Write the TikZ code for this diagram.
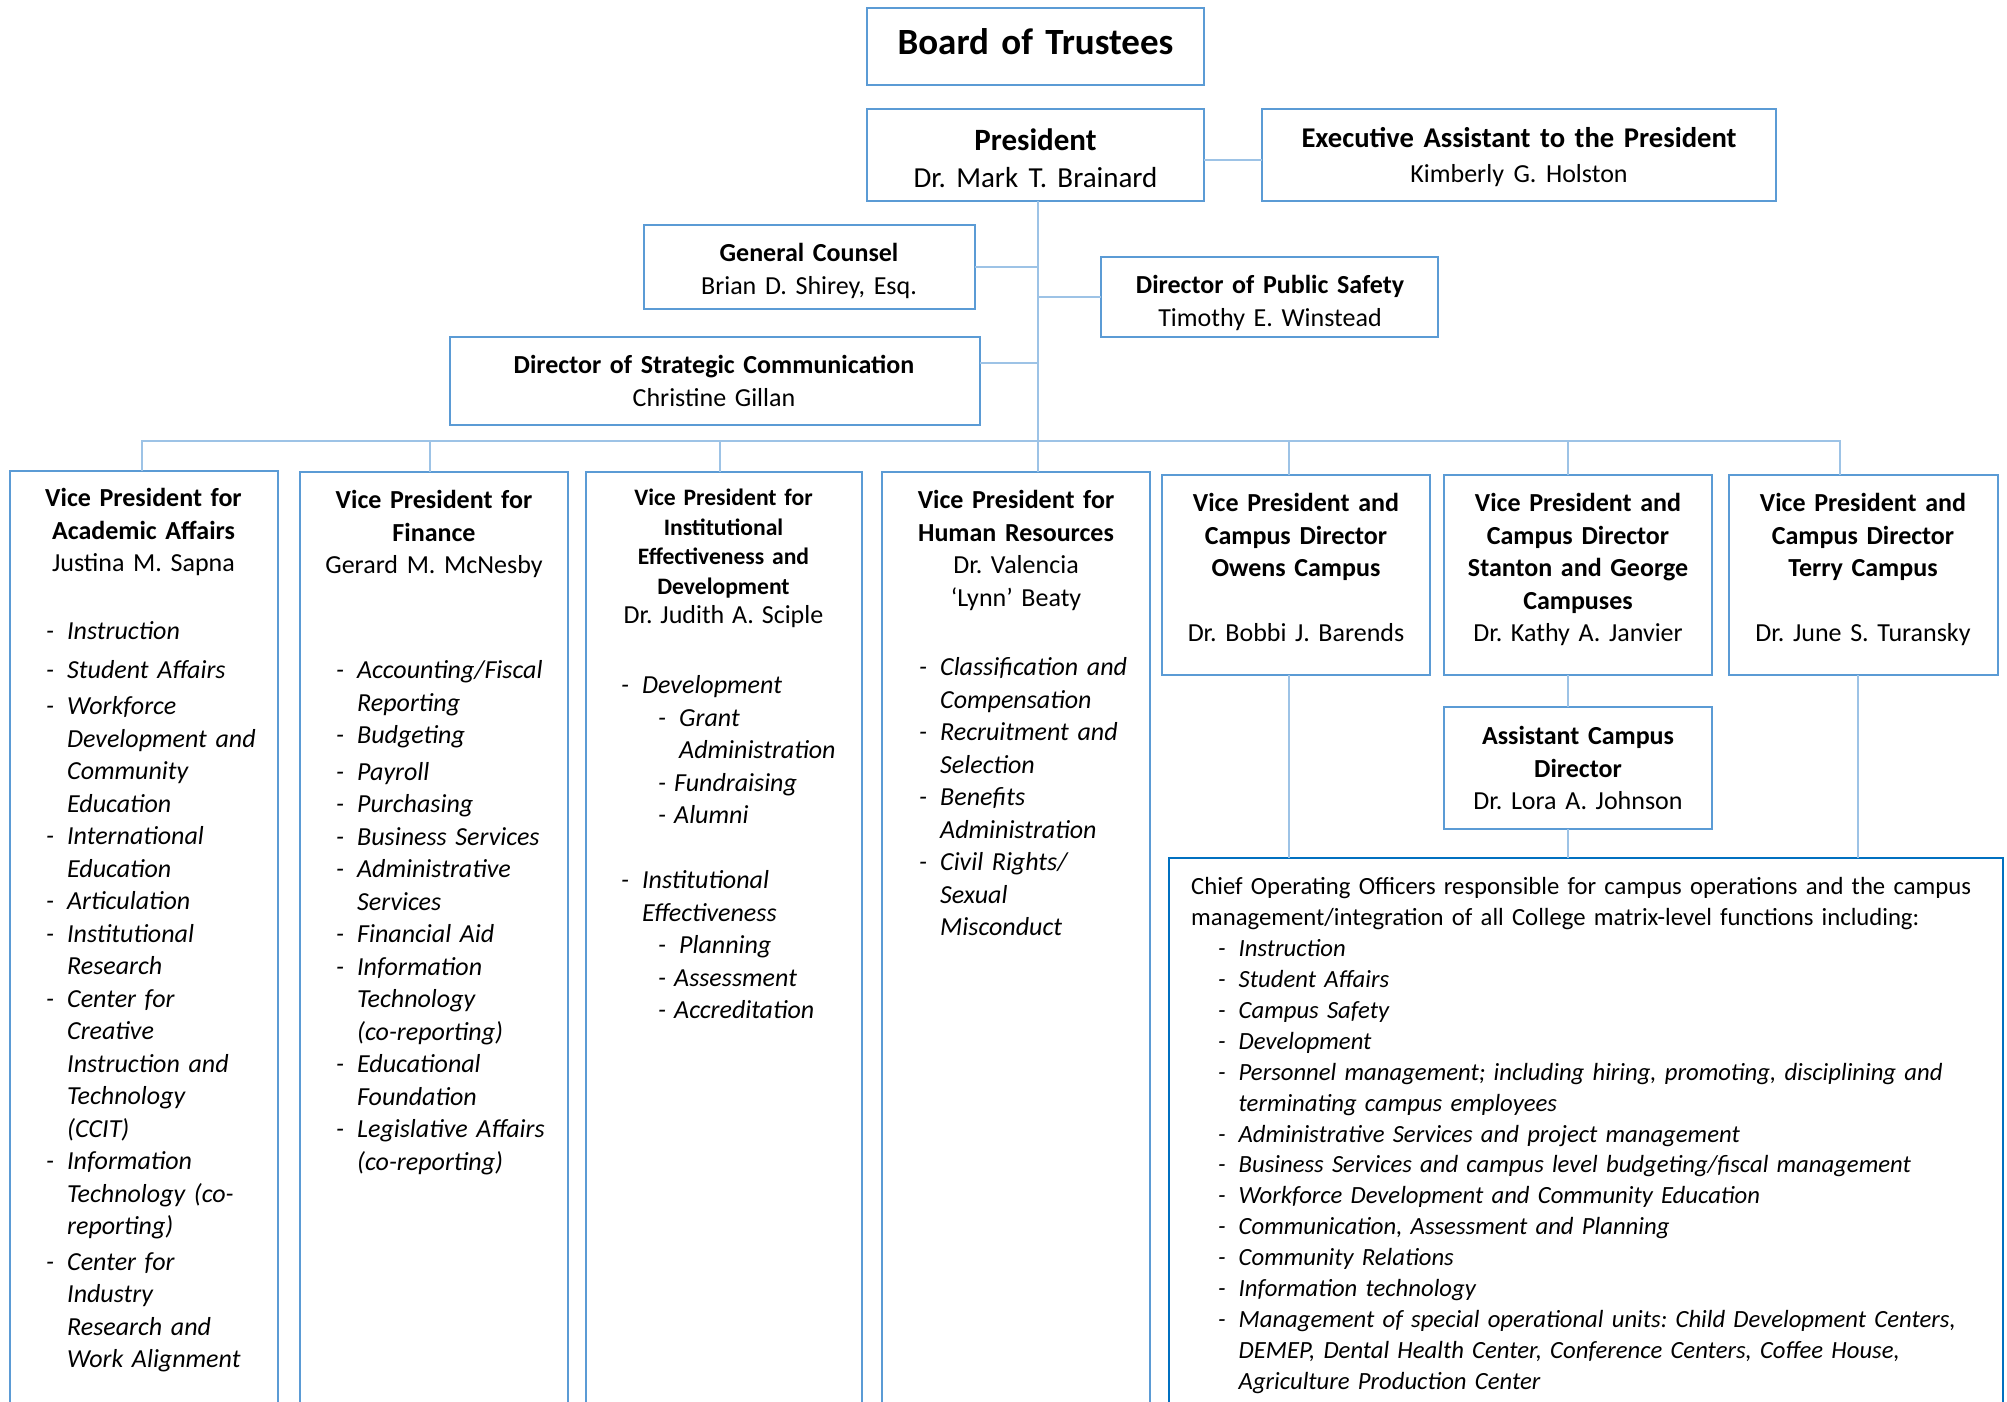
\documentclass[tikz,border=0pt]{standalone}
\usepackage{fontspec}
\setmainfont{Carlito}
\usepackage{tikz}
\frenchspacing

\definecolor{boxblue}{RGB}{91,155,213}
\definecolor{linkblue}{RGB}{157,195,230}
\definecolor{cooblue}{RGB}{0,112,192}

\newcommand{\boardsize}{\fontsize{37pt}{45pt}\selectfont}
\newcommand{\pressize}{\fontsize{31pt}{37pt}\selectfont}
\newcommand{\presname}{\fontsize{29pt}{37pt}\selectfont}
\newcommand{\execsize}{\fontsize{28.6pt}{35pt}\selectfont}
\newcommand{\bodysize}{\fontsize{26pt}{32.5pt}\selectfont}
\newcommand{\smallhead}{\fontsize{23.6pt}{29.4pt}\selectfont}
\newcommand{\coosize}{\fontsize{24.7pt}{30.9pt}\selectfont}

\newcommand{\orgdash}{\makebox[21pt][l]{-}}
\newcommand{\orgind}{\hspace*{21pt}}
\newcommand{\orgsub}[1]{\hspace*{37pt}\makebox[#1][l]{-}}
\newcommand{\coodash}{\hspace*{27pt}\makebox[20.5pt][l]{-}}
\newcommand{\cooind}{\hspace*{47.5pt}}

\tikzset{
    box color/.style={draw=boxblue},
    org box/.style={box color,line width=2pt,inner sep=0pt,outer sep=0pt,anchor=north west},
    coo box/.style={org box,draw=cooblue,line width=2.6pt},
    link/.style={linkblue,line width=1.7pt},
    head text/.style={anchor=north,align=center,inner sep=0pt,text width=#1,execute at begin node=\strut},
    list text/.style={anchor=north west,align=left,inner sep=0pt,text width=#1,font=\bodysize\itshape,execute at begin node=\strut},
    list text/.default=400pt,
}
\tikzstyle{every node}=[font=\bodysize]

\begin{document}
\begin{tikzpicture}[x=1pt,y=-1pt]
        \useasboundingbox (0,0) rectangle (2007,1402);
        \clip (0,0) rectangle (2007,1402);

        \node[org box, minimum width=337pt, minimum height=77pt] (board) at (867,8) {};
        \node[org box, minimum width=337pt, minimum height=92pt] (pres) at (867,109) {};
        \node[org box, minimum width=514pt, minimum height=92pt] (exec) at (1262,109) {};
        \node[org box, minimum width=331pt, minimum height=84pt] (gc) at (644,225) {};
        \node[org box, minimum width=337pt, minimum height=80pt] (dps) at (1101,257) {};
        \node[org box, minimum width=530pt, minimum height=88pt] (dsc) at (450,337) {};
        \node[org box, minimum width=268pt, minimum height=960pt] (aa) at (10,471) {};
        \node[org box, minimum width=268pt, minimum height=960pt] (fin) at (300,472) {};
        \node[org box, minimum width=276pt, minimum height=960pt] (ied) at (586,472) {};
        \node[org box, minimum width=268pt, minimum height=960pt] (hr) at (882,472) {};
        \node[org box, minimum width=268pt, minimum height=200pt] (owens) at (1162,475) {};
        \node[org box, minimum width=268pt, minimum height=200pt] (stanton) at (1444,475) {};
        \node[org box, minimum width=269pt, minimum height=200pt] (terry) at (1729,475) {};
        \node[org box, minimum width=268pt, minimum height=122pt] (asst) at (1444,707) {};
        \node[coo box, minimum width=834pt, minimum height=600pt] (coo) at (1169,858) {};

        \coordinate (trunk) at (1038,441);
        \coordinate (bus left) at (142,441);
        \coordinate (bus right) at (1840,441);
        \foreach \b/\x in {fin/430, ied/720, owens/1289, stanton/1568}
            \coordinate (\b-drop) at (\x,441);
        \coordinate (terry-foot) at (1858,675);

        \draw[link] (pres.south -| trunk) -- (hr.north -| trunk);
        \draw[link] (aa.north -| bus left) -- (bus left) -- (bus right) -- (terry.north -| bus right);
        \foreach \b in {fin, ied, owens, stanton}
            \draw[link] (\b-drop) -- (\b.north -| \b-drop);
        \draw[link] (pres.east |- 0,160) -- (exec.west |- 0,160);
        \draw[link] (gc.east) -- (gc.east -| trunk);
        \draw[link] (dps.west) -- (dps.west -| trunk);
        \draw[link] (dsc.east |- 0,363) -- (trunk |- 0,363);
        \draw[link] (owens.south -| owens-drop) -- (coo.north -| owens-drop);
        \draw[link] (stanton.south -| stanton-drop) -- (asst.north -| stanton-drop);
        \draw[link] (asst.south -| stanton-drop) -- (coo.north -| stanton-drop);
        \draw[link] (terry-foot) -- (coo.north -| terry-foot);

        \node[head text=330pt, font=\boardsize\bfseries] (board text) at (1035.5,23) {Board of Trustees};
        \node[head text=330pt, font=\pressize] (pres text) at (1035.5,124) {\textbf{President}\\{\presname Dr. Mark T. Brainard}};
        \node[head text=505pt, font=\execsize] (exec text) at (1519,122.8) {\textbf{Executive Assistant to the President}\\{\bodysize Kimberly G. Holston}};
        \node[head text=325pt] (gc text) at (809,238.8) {\textbf{General Counsel}\\Brian D. Shirey, Esq.};
        \node[head text=330pt] (dps text) at (1270,270.8) {\textbf{Director of Public Safety}\\Timothy E. Winstead};
        \node[head text=520pt] (dsc text) at (714,350.8) {\textbf{Director of Strategic Communication}\\Christine Gillan};

        \node[head text=260pt] (aa text) at (143.5,483.8) {\textbf{Vice President for}\\\textbf{Academic Affairs}\\Justina M. Sapna};
        \node[head text=260pt] (fin text) at (434,485.8) {\textbf{Vice President for}\\\textbf{Finance}\\Gerard M. McNesby};
        \node[head text=268pt, font=\smallhead] (ied text) at (723.5,485.1) {\textbf{Vice President for}\\\textbf{Institutional}\\\textbf{Effectiveness and}\\\textbf{Development}\\{\bodysize Dr. Judith A. Sciple}};
        \node[head text=260pt] (hr text) at (1016,485.8) {\textbf{Vice President for}\\\textbf{Human Resources}\\Dr. Valencia\\`Lynn' Beaty};
        \node[head text=260pt] (owens text) at (1296,488.8) {\textbf{Vice President and}\\\textbf{Campus Director}\\\textbf{Owens Campus}\\[32.5pt]Dr. Bobbi J. Barends};
        \node[head text=260pt] (stanton text) at (1578,488.8) {\textbf{Vice President and}\\\textbf{Campus Director}\\\textbf{Stanton and George}\\\textbf{Campuses}\\Dr. Kathy A. Janvier};
        \node[head text=260pt] (terry text) at (1863,488.8) {\textbf{Vice President and}\\\textbf{Campus Director}\\\textbf{Terry Campus}\\[32.5pt]Dr. June S. Turansky};
        \node[head text=260pt] (asst text) at (1578,721.8) {\textbf{Assistant Campus}\\\textbf{Director}\\Dr. Lora A. Johnson};

        \node[list text] (aa list) at (46,617) {\orgdash Instruction\\[6pt]
            \orgdash Student Affairs\\[4pt]
            \orgdash Workforce\\ \orgind Development and\\ \orgind Community\\ \orgind Education\\
            \orgdash International\\ \orgind Education\\
            \orgdash Articulation\\
            \orgdash Institutional\\ \orgind Research\\
            \orgdash Center for\\ \orgind Creative\\ \orgind Instruction and\\ \orgind Technology\\ \orgind (CCIT)\\
            \orgdash Information\\ \orgind Technology (co-\\ \orgind reporting)\\[3pt]
            \orgdash Center for\\ \orgind Industry\\ \orgind Research and\\ \orgind Work Alignment};
        \node[list text] (fin list) at (336,655.8) {\orgdash Accounting/Fiscal\\ \orgind Reporting\\
            \orgdash Budgeting\\[4pt]
            \orgdash Payroll\\
            \orgdash Purchasing\\
            \orgdash Business Services\\
            \orgdash Administrative\\ \orgind Services\\
            \orgdash Financial Aid\\
            \orgdash Information\\ \orgind Technology\\ \orgind (co-reporting)\\
            \orgdash Educational\\ \orgind Foundation\\
            \orgdash Legislative Affairs\\ \orgind (co-reporting)};
        \node[list text] (ied list) at (621,670.8) {\orgdash Development\\
            \orgsub{21pt}Grant\\ \hspace*{58pt}Administration\\
            \orgsub{16pt}Fundraising\\
            \orgsub{16pt}Alumni\\[32.5pt]
            \orgdash Institutional\\ \orgind Effectiveness\\
            \orgsub{21pt}Planning\\
            \orgsub{16pt}Assessment\\
            \orgsub{16pt}Accreditation};
        \node[list text] (hr list) at (919,652.8) {\orgdash Classification and\\ \orgind Compensation\\
            \orgdash Recruitment and\\ \orgind Selection\\
            \orgdash Benefits\\ \orgind Administration\\
            \orgdash Civil Rights/\\ \orgind Sexual\\ \orgind Misconduct};
        \node[list text=820pt, font=\coosize] (coo text) at (1191,873) {Chief Operating Officers responsible for campus operations and the campus\\
            management/integration of all College matrix-level functions including:\\
            \itshape\coodash Instruction\\
            \coodash Student Affairs\\
            \coodash Campus Safety\\
            \coodash Development\\
            \coodash Personnel management; including hiring, promoting, disciplining and\\ \cooind terminating campus employees\\
            \coodash Administrative Services and project management\\
            \coodash Business Services and campus level budgeting/fiscal management\\
            \coodash Workforce Development and Community Education\\
            \coodash Communication, Assessment and Planning\\
            \coodash Community Relations\\
            \coodash Information technology\\
            \coodash Management of special operational units: Child Development Centers,\\ \cooind DEMEP, Dental Health Center, Conference Centers, Coffee House,\\ \cooind Agriculture Production Center};
\end{tikzpicture}
\end{document}
